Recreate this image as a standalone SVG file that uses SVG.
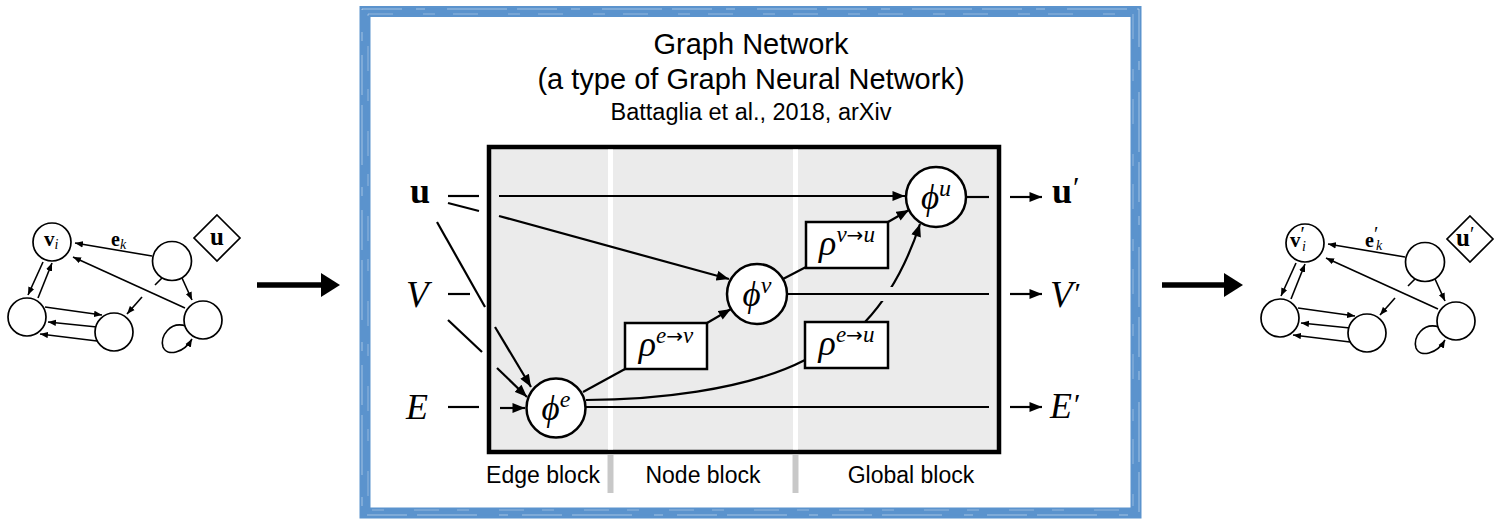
<svg xmlns="http://www.w3.org/2000/svg" width="1508" height="521" viewBox="0 0 1508 521">
<defs>
<style>
.sans{font-family:"Liberation Sans",Arial,sans-serif;fill:#000}
.m{font-family:"Liberation Serif","DejaVu Serif",serif;fill:#000}
.mi{font-family:"Liberation Serif","DejaVu Serif",serif;font-style:italic;fill:#000}
.mb{font-family:"Liberation Serif","DejaVu Serif",serif;font-weight:bold;fill:#000}
.ar{font-family:"DejaVu Sans",sans-serif;font-style:normal}
.ln{fill:none;stroke:#000;stroke-width:2.2}
.sl{fill:none;stroke:#000;stroke-width:1.6}
.fn{fill:#fff;stroke:#000;stroke-width:2.5}
.sn{fill:#fff;stroke:#000;stroke-width:1.7}
.box{fill:#fff;stroke:#000;stroke-width:2.5}
</style>
<marker id="ah" viewBox="0 0 10 8" refX="10" refY="4" markerWidth="13" markerHeight="10" orient="auto" markerUnits="userSpaceOnUse"><path d="M0,0 L10,4 L0,8 z" fill="#000"/></marker>
<marker id="sa" viewBox="0 0 10 8" refX="10" refY="4" markerWidth="8" markerHeight="7" orient="auto" markerUnits="userSpaceOnUse"><path d="M0,0 L10,4 L0,8 z" fill="#000"/></marker>
</defs>
<rect width="1508" height="521" fill="#fff"/>

<!-- blue frame -->
<g id="frame">
<rect x="365" y="11.5" width="771" height="501.5" fill="none" stroke="#5b93cd" stroke-width="11"/>
<rect x="362" y="9" width="777" height="506" fill="none" stroke="#fff" stroke-opacity="0.45" stroke-width="1" stroke-dasharray="40 14 9 22 60 10"/>
<rect x="368" y="14" width="765" height="496" fill="none" stroke="#fff" stroke-opacity="0.35" stroke-width="1" stroke-dasharray="25 30 12 18"/>
</g>

<!-- titles -->
<g id="title">
<text class="sans" x="751" y="54" font-size="29" text-anchor="middle">Graph Network</text>
<text class="sans" x="751" y="89" font-size="29" text-anchor="middle">(a type of Graph Neural Network)</text>
<text class="sans" x="751" y="120" font-size="23.5" text-anchor="middle">Battaglia et al., 2018, arXiv</text>
</g>

<!-- GN block panel -->
<g id="panel">
<rect x="489" y="147" width="510" height="305" fill="#ebebeb" stroke="#000" stroke-width="4.5"/>
<line x1="610.5" y1="149.5" x2="610.5" y2="449.5" stroke="#fff" stroke-width="5"/>
<line x1="795.5" y1="149.5" x2="795.5" y2="449.5" stroke="#fff" stroke-width="5"/>
<line x1="610.5" y1="455" x2="610.5" y2="493" stroke="#c8c8c8" stroke-width="6"/>
<line x1="795.5" y1="455" x2="795.5" y2="493" stroke="#c8c8c8" stroke-width="6"/>
<text class="sans" x="543" y="483" font-size="23" text-anchor="middle">Edge block</text>
<text class="sans" x="703" y="483" font-size="23" text-anchor="middle">Node block</text>
<text class="sans" x="911" y="483" font-size="23" text-anchor="middle">Global block</text>
</g>

<!-- connectors -->
<g id="connectors">
<path class="ln" d="M448,196 L479,196"/>
<path class="ln" d="M448,203 L479,211"/>
<path class="ln" d="M437,222 L485,307"/>
<path class="ln" d="M448,294 L470,294"/>
<path class="ln" d="M448,320 L482,352"/>
<path class="ln" d="M448,407 L479,407"/>
<path class="ln" d="M499,196 L905,196" marker-end="url(#ah)"/>
<path class="ln" d="M499,216 L729,279" marker-end="url(#ah)"/>
<path class="ln" d="M495,327 L531,387" marker-end="url(#ah)"/>
<path class="ln" d="M497,368 L527,397" marker-end="url(#ah)"/>
<path class="ln" d="M500,408 L525,408" marker-end="url(#ah)"/>
<path class="ln" d="M583,392 L625,369"/>
<path class="ln" d="M707,323 L731,309" marker-end="url(#ah)"/>
<path class="ln" d="M783,279 L806,267"/>
<path class="ln" d="M888,222 L909,210" marker-end="url(#ah)"/>
<path class="ln" d="M586,400 C650,400 745,391 805,360"/>
<path class="ln" d="M865,322 Q900,285 920,224" marker-end="url(#ah)"/>
<rect x="880" y="287" width="22" height="14" fill="#ebebeb"/>
<path class="ln" d="M586,407 L989,407"/>
<path class="ln" d="M787,294 L989,294"/>
<path class="ln" d="M966,197 L989,197"/>
<path class="ln" d="M1010,197 L1042,197" marker-end="url(#ah)"/>
<path class="ln" d="M1010,294 L1042,294" marker-end="url(#ah)"/>
<path class="ln" d="M1010,407 L1042,407" marker-end="url(#ah)"/>
<path d="M257,285 L323,285" stroke="#000" stroke-width="5.5" fill="none"/>
<path d="M321,273 L340,285 L321,297 z" fill="#000"/>
<path d="M1162,285 L1226,285" stroke="#000" stroke-width="5.5" fill="none"/>
<path d="M1224,273 L1243,285 L1224,297 z" fill="#000"/>
</g>

<!-- input / output labels -->
<g id="io-labels">
<text class="mb" x="410" y="203" font-size="36">u</text>
<text class="mi" x="406" y="307" font-size="37">V</text>
<text class="mi" x="406" y="419" font-size="36">E</text>
<text class="mb" x="1052" y="203" font-size="36">u<tspan class="m" font-weight="normal" font-size="30" dx="1" dy="-6">′</tspan></text>
<text class="mi" x="1050" y="307" font-size="37">V<tspan font-style="normal" font-size="30" dx="2" dy="-4">′</tspan></text>
<text class="mi" x="1050" y="418" font-size="36">E<tspan font-style="normal" font-size="30" dx="2" dy="-4">′</tspan></text>
</g>

<!-- function nodes -->
<g id="phi-e">
<circle class="fn" cx="556" cy="408" r="29.5"/>
<text class="mi" x="556" y="420" font-size="35" text-anchor="middle">ϕ<tspan font-size="24" dy="-13">e</tspan></text>
</g>
<g id="phi-v">
<circle class="fn" cx="757" cy="294" r="30"/>
<text class="mi" x="757" y="306" font-size="35" text-anchor="middle">ϕ<tspan font-size="24" dy="-13">v</tspan></text>
</g>
<g id="phi-u">
<circle class="fn" cx="936" cy="197" r="30"/>
<text class="mi" x="936" y="209" font-size="35" text-anchor="middle">ϕ<tspan font-size="24" dy="-13">u</tspan></text>
</g>
<g id="rho-ev">
<rect class="box" x="625" y="323" width="82" height="46"/>
<text class="mi" x="666" y="356" font-size="36" text-anchor="middle">ρ<tspan font-size="23" dy="-13">e</tspan><tspan class="ar" font-size="20">→</tspan><tspan font-size="23">v</tspan></text>
</g>
<g id="rho-vu">
<rect class="box" x="806" y="222" width="82" height="46"/>
<text class="mi" x="847" y="255" font-size="36" text-anchor="middle">ρ<tspan font-size="23" dy="-13">v</tspan><tspan class="ar" font-size="20">→</tspan><tspan font-size="23">u</tspan></text>
</g>
<g id="rho-eu">
<rect class="box" x="805" y="322" width="83" height="46"/>
<text class="mi" x="846.5" y="355" font-size="36" text-anchor="middle">ρ<tspan font-size="23" dy="-13">e</tspan><tspan class="ar" font-size="20">→</tspan><tspan font-size="23">u</tspan></text>
</g>

<!-- input graph -->
<g id="graph-in">
<g id="graph-in-edges">
<path class="sl" d="M152,256 L75,243" marker-end="url(#sa)"/>
<path class="sl" d="M185,308 L73,257" marker-end="url(#sa)"/>
<path class="sl" d="M43,262 L28,295" marker-end="url(#sa)"/>
<path class="sl" d="M38,298 L52,263" marker-end="url(#sa)"/>
<path class="sl" d="M45,307 L102,315" marker-end="url(#sa)"/>
<path class="sl" d="M97,327 L48,322" marker-end="url(#sa)"/>
<path class="sl" d="M97,341 L40,334" marker-end="url(#sa)"/>
<path class="sl" d="M182,278 L192,300" marker-end="url(#sa)"/>
<path class="sl" d="M142,297 L127,314" marker-end="url(#sa)"/>
<path class="sl" d="M162,278 L155,285"/>
<path class="sl" d="M186,326 C170,321 160,336 163,347 C167,357 184,353 192,339" marker-end="url(#sa)"/>
</g>
<g id="in-vi"><circle class="sn" cx="52" cy="242" r="19"/>
<text class="mb" x="44" y="246" font-size="21">v<tspan class="mi" font-weight="normal" font-size="14" dy="3">i</tspan></text></g>
<g id="in-n2"><circle class="sn" cx="172" cy="261" r="19.5"/></g>
<g id="in-n3"><circle class="sn" cx="27" cy="317" r="19"/></g>
<g id="in-n4"><circle class="sn" cx="114" cy="332" r="19"/></g>
<g id="in-n5"><circle class="sn" cx="203" cy="320" r="19"/></g>
<g id="in-u"><path class="sn" d="M217,215 L240,238 L217,261 L194,238 z"/>
<text class="mb" x="217" y="245" font-size="25" text-anchor="middle">u</text></g>
<text class="mb" x="111" y="246" font-size="20">e<tspan class="mi" font-weight="normal" font-size="14" dy="3">k</tspan></text>
</g>

<!-- output graph -->
<g id="graph-out" transform="translate(1253,1)">
<g id="graph-out-edges">
<path class="sl" d="M152,256 L75,243" marker-end="url(#sa)"/>
<path class="sl" d="M185,308 L73,257" marker-end="url(#sa)"/>
<path class="sl" d="M43,262 L28,295" marker-end="url(#sa)"/>
<path class="sl" d="M38,298 L52,263" marker-end="url(#sa)"/>
<path class="sl" d="M45,307 L102,315" marker-end="url(#sa)"/>
<path class="sl" d="M97,327 L48,322" marker-end="url(#sa)"/>
<path class="sl" d="M97,341 L40,334" marker-end="url(#sa)"/>
<path class="sl" d="M182,278 L192,300" marker-end="url(#sa)"/>
<path class="sl" d="M142,297 L127,314" marker-end="url(#sa)"/>
<path class="sl" d="M162,278 L155,285"/>
<path class="sl" d="M186,326 C170,321 160,336 163,347 C167,357 184,353 192,339" marker-end="url(#sa)"/>
</g>
<g id="out-vi"><circle class="sn" cx="52" cy="242" r="19"/>
<text class="mb" x="37" y="246" font-size="21">v<tspan class="m" font-weight="normal" font-size="20" dx="0" dy="-6">′</tspan><tspan class="mi" font-weight="normal" font-size="14" x="49" dy="10">i</tspan></text></g>
<g id="out-n2"><circle class="sn" cx="172" cy="261" r="19.5"/></g>
<g id="out-n3"><circle class="sn" cx="27" cy="317" r="19"/></g>
<g id="out-n4"><circle class="sn" cx="114" cy="332" r="19"/></g>
<g id="out-n5"><circle class="sn" cx="203" cy="320" r="19"/></g>
<g id="out-u"><path class="sn" d="M217,215 L240,238 L217,261 L194,238 z"/>
<text class="mb" x="203" y="245" font-size="25">u<tspan class="m" font-weight="normal" font-size="20" dy="-5">′</tspan></text></g>
<text class="mb" x="112" y="246" font-size="20">e<tspan class="m" font-weight="normal" font-size="20" dy="-6">′</tspan><tspan class="mi" font-weight="normal" font-size="14" x="123" dy="9">k</tspan></text>
</g>
</svg>
